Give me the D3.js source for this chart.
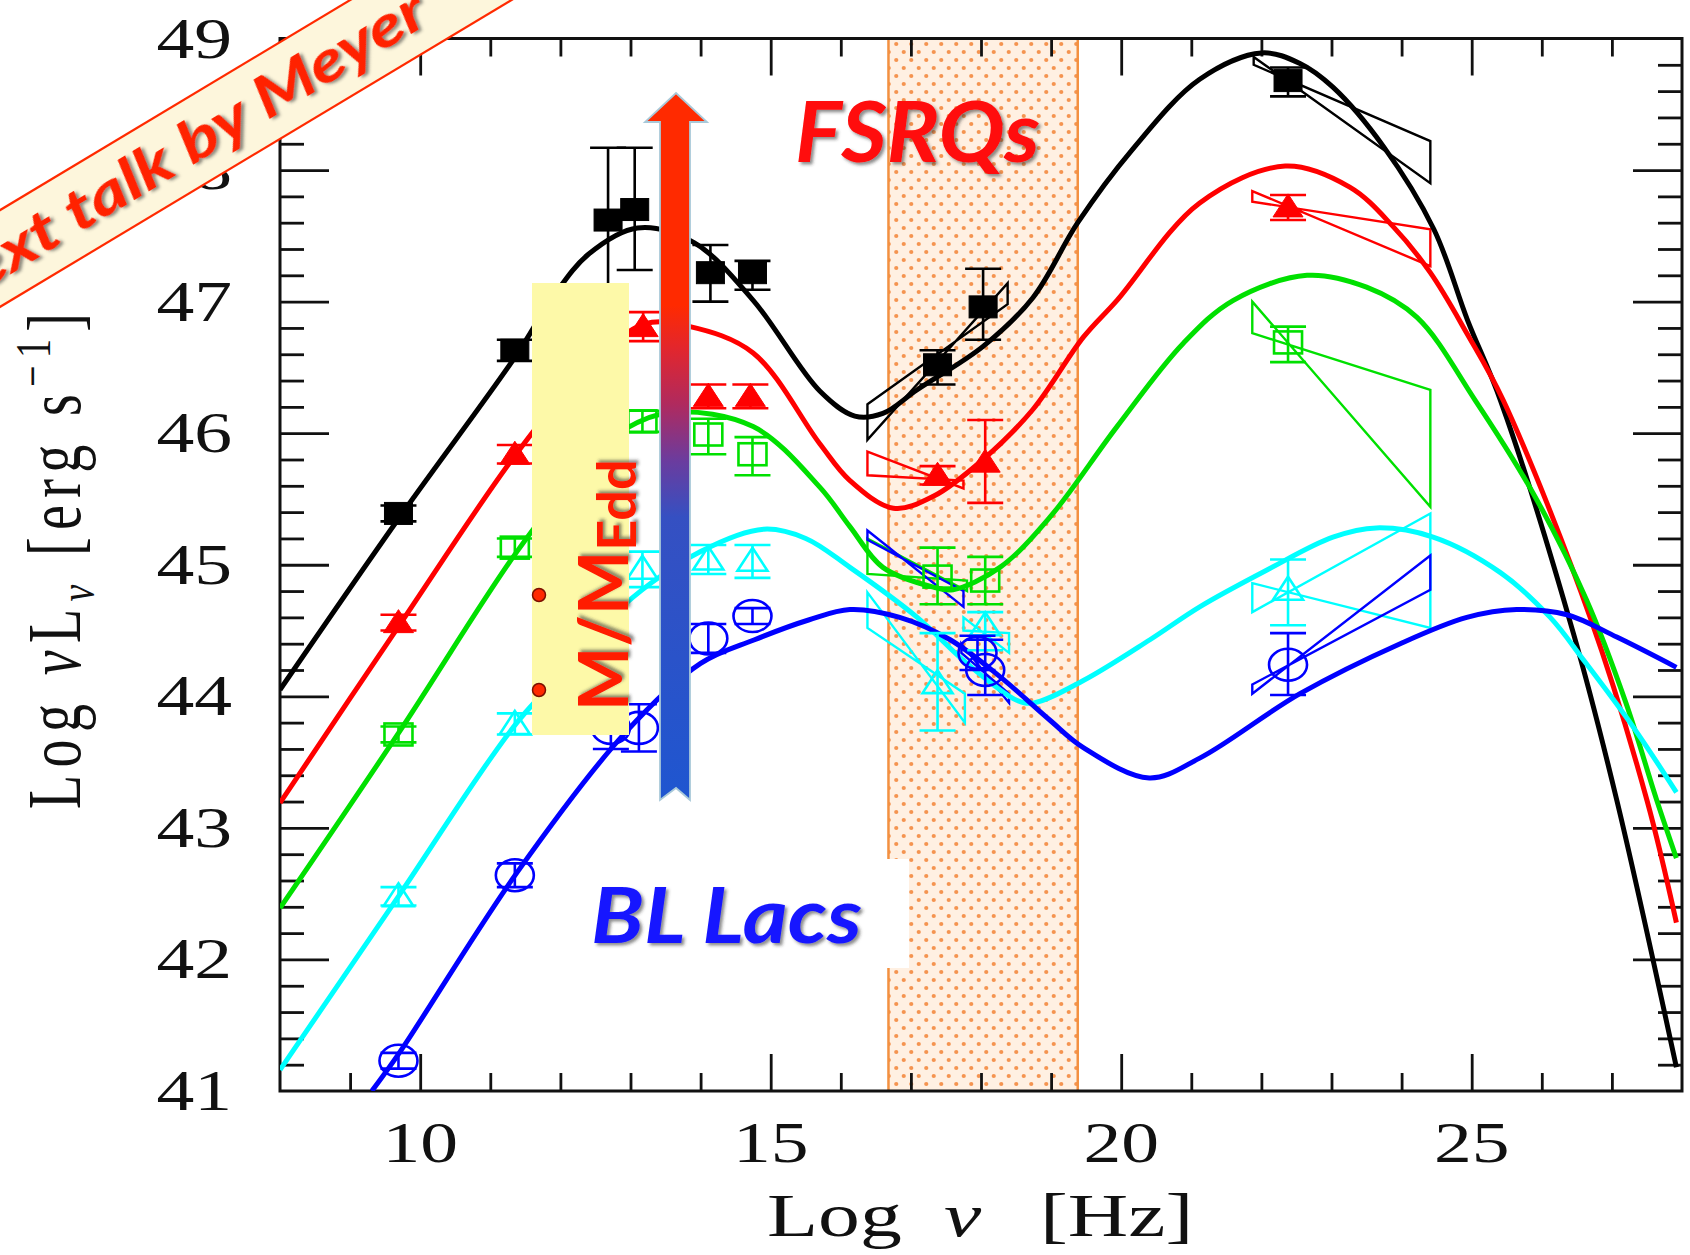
<!DOCTYPE html>
<html>
<head>
<meta charset="utf-8">
<script src="https://cdn.jsdelivr.net/npm/d3@7"></script>
<style>
  html, body { margin: 0; padding: 0; background: #ffffff; }
  svg { display: block; }
</style>
</head>
<body>
<svg id="chart" width="1690" height="1255"></svg>
<script>
// ---------- axes ----------
const xDomain = [8, 28];
const yDomain = [41, 49];
const xTickLabels = [10, 15, 20, 25];
const yTickLabels = [41, 42, 43, 44, 45, 46, 47, 48, 49];
const xrayBand = [16.68, 19.38];

// ---------- model SEDs: [log nu, log nuLnu] ----------
const curveBlack = [[8.0,44.05],[9.69,45.35],[11.38,46.6],[11.9,47.04],[12.4,47.36],[13.1,47.56],[13.9,47.45],[14.75,47.01],[15.7,46.32],[16.2,46.13],[16.6,46.15],[17.09,46.33],[18.03,46.66],[18.74,47.03],[19.38,47.6],[20.15,48.15],[21.12,48.69],[22.0,48.89],[22.55,48.81],[23.02,48.63],[23.74,48.18],[24.46,47.55],[24.94,46.86],[25.41,46.25],[26.45,44.48],[27.07,43.21],[27.92,41.18]];
const curveRed = [[8.0,43.19],[9.69,44.53],[11.38,45.85],[12.4,46.5],[13.2,46.83],[13.85,46.81],[14.75,46.61],[15.7,45.92],[16.13,45.64],[16.75,45.43],[17.32,45.52],[18.03,45.8],[18.74,46.18],[19.46,46.73],[19.94,47.01],[21.12,47.75],[22.34,48.03],[23.26,47.87],[23.88,47.57],[24.41,47.22],[24.93,46.76],[25.45,46.25],[26.69,44.6],[27.5,43.21],[27.92,42.28]];
const curveGreen = [[8.0,42.39],[9.69,43.72],[11.38,45.1],[12.3,45.72],[12.92,46.03],[13.6,46.16],[14.75,46.05],[15.7,45.59],[16.13,45.29],[16.6,44.98],[17.32,44.83],[17.6,44.81],[18.27,44.98],[18.98,45.36],[19.94,46.05],[20.88,46.68],[21.6,47.01],[22.65,47.2],[23.5,47.11],[24.22,46.88],[25.05,46.25],[25.88,45.54],[26.64,44.73],[27.2,43.95],[27.64,43.21],[27.92,42.77]];
const curveCyan = [[8.0,41.16],[9.69,42.48],[11.38,43.8],[12.3,44.32],[12.92,44.7],[14.0,45.1],[14.9,45.27],[15.5,45.2],[16.13,44.98],[17.09,44.6],[17.8,44.25],[18.51,43.97],[18.75,43.95],[19.46,44.12],[20.41,44.43],[21.12,44.68],[22.08,44.96],[23.02,45.21],[23.64,45.28],[24.45,45.21],[25.41,44.94],[26.12,44.6],[26.59,44.28],[27.3,43.77],[27.92,43.27]];
const curveBlue = [[9.31,41.0],[9.69,41.28],[11.38,42.66],[12.92,43.72],[14.0,44.25],[14.77,44.43],[15.54,44.58],[16.13,44.66],[16.84,44.6],[17.56,44.43],[18.27,44.15],[18.98,43.82],[19.46,43.61],[20.4,43.38],[21.12,43.53],[22.55,44.02],[23.98,44.4],[24.93,44.6],[25.64,44.66],[26.36,44.62],[27.07,44.45],[27.92,44.22]];

// ---------- binned data: [log nu, log nuLnu, lower, upper] ----------
const pointsBlack = [[9.69,45.39,45.33,45.45],[11.35,46.63,46.55,46.71],[12.68,47.62,47.05,48.17],[13.06,47.70,47.24,48.17],[14.14,47.22,47.00,47.43],[14.74,47.22,47.09,47.31],[17.38,46.52,46.37,46.63],[18.03,46.96,46.71,47.25],[22.38,48.68,48.56,48.78]];
const pointsRed = [[9.69,44.56,44.50,44.62],[11.35,45.84,45.77,45.91],[13.18,46.81,46.70,46.92],[14.11,46.28,46.19,46.37],[14.71,46.28,46.19,46.37],[17.38,45.68,45.61,45.75],[18.06,45.78,45.47,46.10],[22.38,47.72,47.62,47.81]];
const pointsGreen = [[9.69,43.71,43.65,43.77],[11.35,45.13,45.06,45.20],[13.17,46.09,46.01,46.17],[14.11,45.99,45.84,46.11],[14.74,45.84,45.68,45.97],[17.38,44.91,44.70,45.13],[18.06,44.88,44.70,45.06],[22.38,46.69,46.54,46.81]];
const pointsCyan = [[9.69,42.48,42.41,42.55],[11.35,43.79,43.71,43.87],[13.17,44.97,44.83,45.10],[14.11,45.04,44.93,45.15],[14.74,45.03,44.90,45.15],[17.38,44.10,43.74,44.48],[18.06,44.54,44.35,44.64],[22.38,44.81,44.54,45.04]];
const pointsBlue = [[9.69,41.23,41.17,41.29],[11.35,42.64,42.55,42.73],[12.72,43.76,43.60,43.92],[13.12,43.76,43.58,43.94],[14.11,44.44,44.33,44.55],[14.74,44.61,44.55,44.67],[17.95,44.33,44.20,44.46],[18.06,44.20,44.01,44.43],[22.38,44.24,44.01,44.48]];

// ---------- spectral butterflies: [nu1, top1, bottom1, nu2, top2, bottom2] ----------
const bowtiesBlack = [[16.38,46.22,45.95,18.38,47.14,46.98],[21.89,48.86,48.80,24.41,48.22,47.90]];
const bowtiesRed = [[16.38,45.86,45.68,17.75,45.64,45.58],[21.87,47.84,47.76,24.41,47.55,47.27]];
const bowtiesGreen = [[16.38,45.20,44.93,17.80,44.88,44.80],[21.87,47.00,46.76,24.41,46.33,45.44]];
const bowtiesCyan = [[16.38,44.79,44.52,17.77,44.02,43.80],[17.75,44.60,44.50,18.40,44.48,44.33],[21.87,44.86,44.64,24.41,45.39,44.52]];
const bowtiesBlue = [[16.38,45.26,45.19,17.75,44.80,44.68],[17.72,44.40,44.33,18.40,44.02,43.95],[21.87,44.09,44.02,24.41,45.07,44.81]];

const seriesList = [
  { name: "black", color: "#000000", curve: curveBlack, points: pointsBlack, bowties: bowtiesBlack, marker: "squareFilled" },
  { name: "red",   color: "#ff0000", curve: curveRed,   points: pointsRed,   bowties: bowtiesRed,   marker: "triangleFilled" },
  { name: "green", color: "#00e000", curve: curveGreen, points: pointsGreen, bowties: bowtiesGreen, marker: "squareOpen" },
  { name: "cyan",  color: "#00ffff", curve: curveCyan,  points: pointsCyan,  bowties: bowtiesCyan,  marker: "triangleOpen" },
  { name: "blue",  color: "#0000ff", curve: curveBlue,  points: pointsBlue,  bowties: bowtiesBlue,  marker: "circleOpen" }
];

// ---------- layout ----------
const svg = d3.select("#chart");
const plot = { left: 280, right: 1682, top: 38.5, bottom: 1091 };
const x = d3.scaleLinear().domain(xDomain).range([plot.left, plot.right]);
const y = d3.scaleLinear().domain(yDomain).range([plot.bottom, plot.top]);
const serif = "'Liberation Serif', 'Times New Roman', serif";
const hand = "'Comic Sans MS', Lato, 'Open Sans', sans-serif";

const defs = svg.append("defs");
defs.append("clipPath").attr("id", "plotClip")
  .append("rect").attr("x", plot.left).attr("y", plot.top)
  .attr("width", plot.right - plot.left).attr("height", plot.bottom - plot.top);

const dots = defs.append("pattern").attr("id", "dots")
  .attr("patternUnits", "userSpaceOnUse").attr("width", 15).attr("height", 16);
dots.append("rect").attr("width", 15).attr("height", 16).attr("fill", "#fff0e2");
dots.append("circle").attr("cx", 3.75).attr("cy", 4).attr("r", 2.1).attr("fill", "#f59450");
dots.append("circle").attr("cx", 11.25).attr("cy", 12).attr("r", 2.1).attr("fill", "#f59450");

const shadow = defs.append("filter").attr("id", "shadow")
  .attr("x", "-10%").attr("y", "-10%").attr("width", "130%").attr("height", "140%");
shadow.append("feDropShadow").attr("dx", 2.5).attr("dy", 2.5).attr("stdDeviation", 1.6)
  .attr("flood-color", "#333").attr("flood-opacity", 0.55);

const grad = defs.append("linearGradient").attr("id", "arrowGrad")
  .attr("x1", 0).attr("y1", 0).attr("x2", 0).attr("y2", 1);
[[0, "#ff2a00"], [0.3, "#ff2a00"], [0.36, "#e3262c"], [0.44, "#b02a5e"],
 [0.52, "#6b3c9e"], [0.6, "#3550c2"], [1, "#1f56d0"]].forEach(([o, c]) =>
  grad.append("stop").attr("offset", o).attr("stop-color", c));

// X-ray band
svg.append("rect")
  .attr("x", x(xrayBand[0])).attr("y", plot.top)
  .attr("width", x(xrayBand[1]) - x(xrayBand[0])).attr("height", plot.bottom - plot.top)
  .attr("fill", "url(#dots)");
xrayBand.forEach(v => svg.append("line")
  .attr("x1", x(v)).attr("x2", x(v)).attr("y1", plot.top).attr("y2", plot.bottom)
  .attr("stroke", "#f39040").attr("stroke-width", 2.5));

// ---------- frame and ticks ----------
const range = (a, b, s) => d3.range(a, b + s / 2, s).map(v => +v.toFixed(2));
const xMajor = range(10, 25, 5);
const xMinor = range(9, 27, 1).filter(v => v % 5 !== 0);
const yMajor = range(42, 48, 1);
const yMinor = range(41.2, 48.8, 0.2).filter(v => Math.abs(v - Math.round(v)) > 0.01);

function axisGroup(gen, tx, ty, vals, size) {
  const g = svg.append("g").attr("transform", `translate(${tx},${ty})`)
    .call(gen.tickValues(vals).tickSize(size).tickSizeOuter(0).tickFormat(""));
  g.selectAll(".domain").remove();
  g.selectAll(".tick line").attr("stroke", "#111").attr("stroke-width", 2.8);
  return g;
}
axisGroup(d3.axisBottom(x), 0, plot.bottom, xMajor, -37);
axisGroup(d3.axisBottom(x), 0, plot.bottom, xMinor, -18);
axisGroup(d3.axisTop(x), 0, plot.top, xMajor, -37);
axisGroup(d3.axisTop(x), 0, plot.top, xMinor, -18);
axisGroup(d3.axisLeft(y), plot.left, 0, yMajor, -49);
axisGroup(d3.axisLeft(y), plot.left, 0, yMinor, -24);
axisGroup(d3.axisRight(y), plot.right, 0, yMajor, -49);
axisGroup(d3.axisRight(y), plot.right, 0, yMinor, -24);

svg.append("rect")
  .attr("x", plot.left).attr("y", plot.top)
  .attr("width", plot.right - plot.left).attr("height", plot.bottom - plot.top)
  .attr("fill", "none").attr("stroke", "#111").attr("stroke-width", 3);

// tick labels (wide serif digits)
xTickLabels.forEach(v => svg.append("text")
  .attr("transform", `translate(${x(v)},1162) scale(1.35,1)`)
  .attr("text-anchor", "middle").attr("font-family", serif).attr("font-size", 56)
  .attr("fill", "#111").text(v));
yTickLabels.forEach(v => svg.append("text")
  .attr("transform", `translate(232,${y(v) + 19}) scale(1.35,1)`)
  .attr("text-anchor", "end").attr("font-family", serif).attr("font-size", 56)
  .attr("fill", "#111").text(v));

// axis titles
function wideText(tx, ty, str, italic) {
  return svg.append("text")
    .attr("transform", `translate(${tx},${ty}) scale(1.35,1)`)
    .attr("font-family", serif).attr("font-size", 62)
    .attr("font-style", italic ? "italic" : "normal")
    .attr("fill", "#111").text(str);
}
wideText(767, 1236, "Log", false);
wideText(944, 1236, "ν", true);
wideText(1040, 1236, "[Hz]", false);

const yTitle = svg.append("text")
  .attr("transform", "translate(80,561) rotate(-90) scale(1,1.35)")
  .attr("text-anchor", "middle").attr("font-family", serif).attr("font-size", 56)
  .attr("fill", "#111").attr("textLength", 496).attr("lengthAdjust", "spacing");
yTitle.append("tspan").text("Log ");
yTitle.append("tspan").attr("font-style", "italic").text("ν");
yTitle.append("tspan").text("L");
yTitle.append("tspan").attr("font-style", "italic").attr("font-size", 38).attr("dy", 10).text("ν");
yTitle.append("tspan").attr("dy", -10).text(" [erg s");
yTitle.append("tspan").attr("font-size", 38).attr("dy", -22).text("−1");
yTitle.append("tspan").attr("dy", 22).text("]");

// ---------- model curves, butterflies, data ----------
const plotArea = svg.append("g").attr("clip-path", "url(#plotClip)");
const line = d3.line().x(d => x(d[0])).y(d => y(d[1])).curve(d3.curveCatmullRom.alpha(0.5));

seriesList.forEach(s => {
  s.bowties.forEach(b => {
    const [n1, t1, b1, n2, t2, b2] = b;
    plotArea.append("path")
      .attr("d", `M${x(n1)},${y(t1)}L${x(n2)},${y(b2)}L${x(n2)},${y(t2)}L${x(n1)},${y(b1)}Z`)
      .attr("fill", "none").attr("stroke", s.color).attr("stroke-width", 2.4)
      .attr("stroke-linejoin", "miter");
  });
});

seriesList.forEach(s => {
  plotArea.append("path").datum(s.curve)
    .attr("d", line).attr("fill", "none")
    .attr("stroke", s.color).attr("stroke-width", 5).attr("stroke-linejoin", "round");
});

function drawMarker(g, kind, cx, cy, color) {
  const open = kind.endsWith("Open");
  const style = el => el.attr("fill", open ? "none" : color)
    .attr("stroke", color).attr("stroke-width", open ? 2.6 : 1);
  if (kind.startsWith("square")) {
    style(g.append("rect").attr("x", cx - 14).attr("y", cy - 11).attr("width", 28).attr("height", 22));
  } else if (kind.startsWith("triangle")) {
    style(g.append("path").attr("d", `M${cx},${cy - 13}L${cx + 15},${cy + 10}L${cx - 15},${cy + 10}Z`));
  } else {
    style(g.append("ellipse").attr("cx", cx).attr("cy", cy).attr("rx", 19).attr("ry", 16));
  }
}

seriesList.forEach(s => {
  s.points.forEach(p => {
    const [nu, L, lo, hi] = p;
    const cx = x(nu), g = plotArea.append("g");
    g.append("line").attr("x1", cx).attr("x2", cx).attr("y1", y(lo)).attr("y2", y(hi))
      .attr("stroke", s.color).attr("stroke-width", 2.6);
    [lo, hi].forEach(v => g.append("line")
      .attr("x1", cx - 18).attr("x2", cx + 18).attr("y1", y(v)).attr("y2", y(v))
      .attr("stroke", s.color).attr("stroke-width", 2.6));
    drawMarker(g, s.marker, cx, y(L), s.color);
  });
});

// ---------- annotations ----------
// accretion-rate panel
svg.append("rect").attr("x", 532).attr("y", 283).attr("width", 97).attr("height", 452)
  .attr("fill", "#fdf9a8");
const mdot = svg.append("text")
  .attr("transform", "translate(628,711) rotate(-90)")
  .attr("font-family", hand).attr("font-weight", "bold").attr("font-size", 68)
  .attr("fill", "#ff1a00").attr("filter", "url(#shadow)");
mdot.append("tspan").text("M/M");
mdot.append("tspan").attr("font-size", 54).attr("dy", 8).text("Edd");
[595, 690].forEach(cy => svg.append("circle")
  .attr("cx", 539).attr("cy", cy).attr("r", 6.5)
  .attr("fill", "#ff2a00").attr("stroke", "#7a1000").attr("stroke-width", 1.5));

// gradient arrow
svg.append("path")
  .attr("d", "M676,93L707,122L690,122L690,800L676,788L660,800L660,122L645,122Z")
  .attr("fill", "url(#arrowGrad)").attr("stroke", "#a9c9d9").attr("stroke-width", 1.8);

// class labels
svg.append("text").attr("x", 795).attr("y", 162)
  .attr("font-family", hand).attr("font-weight", "bold").attr("font-style", "italic")
  .attr("font-size", 84).attr("textLength", 245).attr("lengthAdjust", "spacingAndGlyphs")
  .attr("fill", "#ff0a0a").attr("filter", "url(#shadow)").text("FSRQs");

svg.append("rect").attr("x", 582).attr("y", 859).attr("width", 327).attr("height", 109)
  .attr("fill", "#ffffff");
svg.append("text").attr("x", 591).attr("y", 943)
  .attr("font-family", hand).attr("font-weight", "bold").attr("font-style", "italic")
  .attr("font-size", 76).attr("textLength", 271).attr("lengthAdjust", "spacingAndGlyphs")
  .attr("fill", "#1414ff").attr("filter", "url(#shadow)").text("BL Lacs");

// corner ribbon
const ribbon = svg.append("g").attr("transform", "translate(0,258.5) rotate(-30.96)");
ribbon.append("rect").attr("x", -300).attr("y", -41.5).attr("width", 1200).attr("height", 83)
  .attr("fill", "#fdf6dc");
[-41.5, 41.5].forEach(v => ribbon.append("line")
  .attr("x1", -300).attr("x2", 900).attr("y1", v).attr("y2", v)
  .attr("stroke", "#ff2a00").attr("stroke-width", 2.2));
ribbon.append("text").attr("x", 492).attr("y", 19).attr("text-anchor", "end")
  .attr("font-family", hand).attr("font-weight", "bold").attr("font-style", "italic")
  .attr("font-size", 58).attr("textLength", 575).attr("lengthAdjust", "spacingAndGlyphs")
  .attr("fill", "#ff2200").attr("filter", "url(#shadow)").text("Next talk by Meyer");
</script>
</body>
</html>
